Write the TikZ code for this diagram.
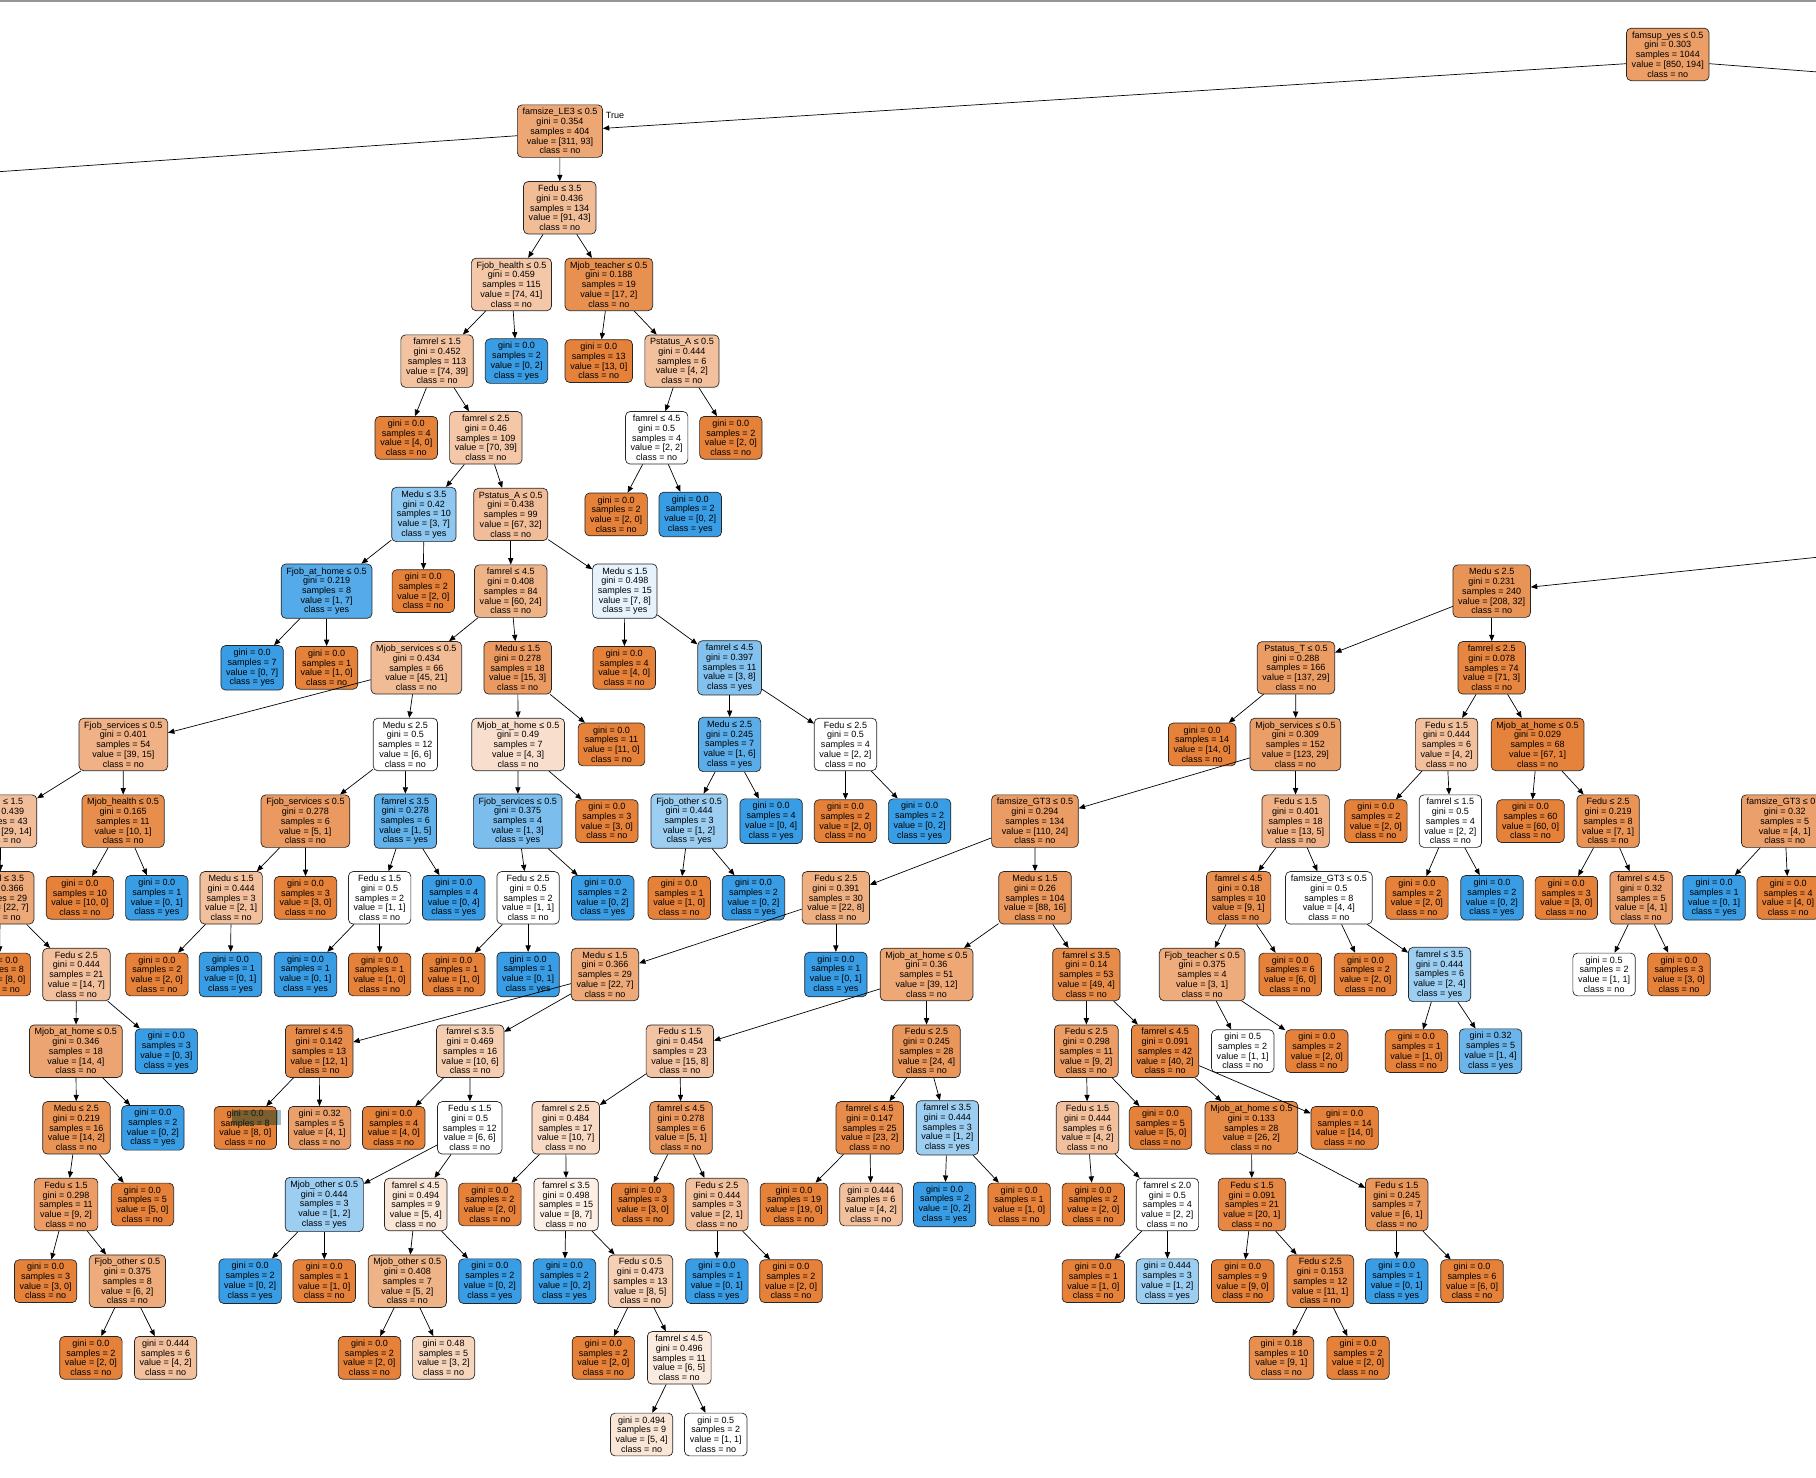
\documentclass[tikz,border=0pt]{standalone}
\usepackage{fontspec}
\setmainfont{Liberation Sans}
\usetikzlibrary{arrows.meta}
\definecolor{dtno}{RGB}{229,129,57}
\definecolor{dtyes}{RGB}{57,157,229}
\definecolor{topgray}{RGB}{150,150,150}
\definecolor{hldark}{RGB}{20,60,40}
\definecolor{hlblue}{RGB}{165,185,205}
\newcommand\dtsetcol[2]{%
  \pgfmathsetmacro\dtpc{(abs(#1-#2)/max(#1,#2))*100}%
  \ifnum#1<#2\relax\colorlet{dtcur}{dtyes!\dtpc!white}\else\colorlet{dtcur}{dtno!\dtpc!white}\fi}
\newcommand\dtin[7]{%
  \dtsetcol{#6}{#7}%
  \node[dtbox] (#1) at (#2,{47+66.2*#3}) {#4\\gini = #5\\samples = \the\numexpr#6+#7\relax\\value = [#6, #7]\\class = \ifnum#6<#7 yes\else no\fi};}
\newcommand\dtlf[6]{%
  \dtsetcol{#5}{#6}%
  \node[dtbox] (#1) at (#2,{47+66.2*#3}) {gini = #4\\samples = \the\numexpr#5+#6\relax\\value = [#5, #6]\\class = \ifnum#5<#6 yes\else no\fi};}
\begin{document}
\begin{tikzpicture}[x=1pt,y=-1pt,
  dtbox/.style={draw=black!85, line width=0.6pt, rounded corners=4pt, fill=dtcur,
    align=center, inner xsep=4.5pt, inner ysep=3pt, font=\fontsize{7.8}{8.4}\selectfont},
  ed/.style={draw=black, line width=0.6pt, -{Triangle[length=5.5pt,width=4.5pt]}},
  edl/.style={draw=black, line width=0.6pt}]
\useasboundingbox (0,0) rectangle (1568,1276);
\fill[topgray] (0,0) rectangle (1568,2);
% rank 0-6
\dtin{root}{1440}{0}{famsup\_yes ≤ 0.5}{0.303}{850}{194}
\dtin{n1}{483.5}{1}{famsize\_LE3 ≤ 0.5}{0.354}{311}{93}
\node[font=\fontsize{7.8}{8.4}\selectfont] (truelbl) at (531,100) {True};
\dtin{n2}{483.3}{2}{Fedu ≤ 3.5}{0.436}{91}{43}
\dtin{n3a}{441.6}{3}{Fjob\_health ≤ 0.5}{0.459}{74}{41}
\dtin{n3b}{525.7}{3}{Mjob\_teacher ≤ 0.5}{0.188}{17}{2}
\dtin{n4a}{377.4}{4}{famrel ≤ 1.5}{0.452}{74}{39}
\dtlf{l4b}{446}{4}{0.0}{0}{2}
\dtlf{l4c}{517}{4}{0.0}{13}{0}
\dtin{n4d}{588.8}{4}{Pstatus\_A ≤ 0.5}{0.444}{4}{2}
\dtlf{l5a}{350.8}{5}{0.0}{4}{0}
\dtin{n5b}{419.5}{5}{famrel ≤ 2.5}{0.46}{70}{39}
\dtin{n5c}{567}{5}{famrel ≤ 4.5}{0.5}{2}{2}
\dtlf{l5d}{631}{5}{0.0}{2}{0}
\dtin{n6a}{366}{6}{Medu ≤ 3.5}{0.42}{3}{7}
\dtin{n6b}{441}{6}{Pstatus\_A ≤ 0.5}{0.438}{67}{32}
\dtlf{l6c}{532}{6}{0.0}{2}{0}
\dtlf{l6d}{596}{6}{0.0}{0}{2}
% rank 7
\dtin{n7a}{282}{7}{Fjob\_at\_home ≤ 0.5}{0.219}{1}{7}
\dtlf{l7b}{365.5}{7}{0.0}{2}{0}
\dtin{n7c}{441}{7}{famrel ≤ 4.5}{0.408}{60}{24}
\dtin{n7d}{539.5}{7}{Medu ≤ 1.5}{0.498}{7}{8}
\dtin{n7e}{1288}{7}{Medu ≤ 2.5}{0.231}{208}{32}
% rank 8
\dtlf{l8a}{217.7}{8}{0.0}{0}{7}
\dtlf{l8b}{282}{8}{0.0}{1}{0}
\dtin{n8c}{359.5}{8}{Mjob\_services ≤ 0.5}{0.434}{45}{21}
\dtin{n8d}{447}{8}{Medu ≤ 1.5}{0.278}{15}{3}
\dtlf{l8e}{539}{8}{0.0}{4}{0}
\dtin{n8f}{630}{8}{famrel ≤ 4.5}{0.397}{3}{8}
\dtin{n8g}{1119}{8}{Pstatus\_T ≤ 0.5}{0.288}{137}{29}
\dtin{n8h}{1288}{8}{famrel ≤ 2.5}{0.078}{71}{3}
% rank 9
\dtin{n9a}{106.5}{9}{Fjob\_services ≤ 0.5}{0.401}{39}{15}
\dtin{n9b}{350}{9}{Medu ≤ 2.5}{0.5}{6}{6}
\dtin{n9c}{447.4}{9}{Mjob\_at\_home ≤ 0.5}{0.49}{4}{3}
\dtlf{l9d}{528}{9}{0.0}{11}{0}
\dtin{n9e}{630}{9}{Medu ≤ 2.5}{0.245}{1}{6}
\dtin{n9f}{730}{9}{Fedu ≤ 2.5}{0.5}{2}{2}
\dtlf{l9g}{1038}{9}{0.0}{14}{0}
\dtin{n9h}{1118.5}{9}{Mjob\_services ≤ 0.5}{0.309}{123}{29}
\dtin{n9i}{1249}{9}{Fedu ≤ 1.5}{0.444}{4}{2}
\dtin{n9j}{1327.6}{9}{Mjob\_at\_home ≤ 0.5}{0.029}{67}{1}
% rank 10
\dtin{n10a}{0.5}{10}{Medu ≤ 1.5}{0.439}{29}{14}
\dtin{n10b}{106.3}{10}{Mjob\_health ≤ 0.5}{0.165}{10}{1}
\dtin{n10c}{263.7}{10}{Fjob\_services ≤ 0.5}{0.278}{5}{1}
\dtin{n10d}{350}{10}{famrel ≤ 3.5}{0.278}{1}{5}
\dtin{n10e}{447}{10}{Fjob\_services ≤ 0.5}{0.375}{1}{3}
\dtlf{l10f}{524}{10}{0.0}{3}{0}
\dtin{n10g}{595}{10}{Fjob\_other ≤ 0.5}{0.444}{1}{2}
\dtlf{l10h}{665.8}{10}{0.0}{0}{4}
\dtlf{l10i}{730}{10}{0.0}{2}{0}
\dtlf{l10j}{794}{10}{0.0}{0}{2}
\dtin{n10k}{893.6}{10}{famsize\_GT3 ≤ 0.5}{0.294}{110}{24}
\dtin{n10l}{1118.7}{10}{Fedu ≤ 1.5}{0.401}{13}{5}
\dtlf{l10m}{1188}{10}{0.0}{2}{0}
\dtin{n10n}{1252.3}{10}{famrel ≤ 1.5}{0.5}{2}{2}
\dtlf{l10o}{1321.5}{10}{0.0}{60}{0}
\dtin{n10p}{1388.5}{10}{Fedu ≤ 2.5}{0.219}{7}{1}
\dtin{n10q}{1541}{10}{famsize\_GT3 ≤ 0.5}{0.32}{4}{1}
% rank 11
\dtin{n11a}{0.2}{11}{famrel ≤ 3.5}{0.366}{22}{7}
\dtlf{l11b}{69}{11}{0.0}{10}{0}
\dtlf{l11c}{135.4}{11}{0.0}{0}{1}
\dtin{n11d}{199.6}{11}{Medu ≤ 1.5}{0.444}{2}{1}
\dtlf{l11e}{263.8}{11}{0.0}{3}{0}
\dtin{n11f}{327.8}{11}{Fedu ≤ 1.5}{0.5}{1}{1}
\dtlf{l11g}{391.8}{11}{0.0}{0}{4}
\dtin{n11h}{456}{11}{Fedu ≤ 2.5}{0.5}{1}{1}
\dtlf{l11i}{520.4}{11}{0.0}{0}{2}
\dtlf{l11j}{586.5}{11}{0.0}{1}{0}
\dtlf{l11k}{650.6}{11}{0.0}{0}{2}
\dtin{n11l}{721.7}{11}{Fedu ≤ 2.5}{0.391}{22}{8}
\dtin{n11m}{893.7}{11}{Medu ≤ 1.5}{0.26}{88}{16}
\dtin{n11n}{1069.5}{11}{famrel ≤ 4.5}{0.18}{9}{1}
\dtin{n11o}{1147.4}{11}{famsize\_GT3 ≤ 0.5}{0.5}{4}{4}
\dtlf{l11p}{1223.4}{11}{0.0}{2}{0}
\dtlf{l11q}{1288.2}{11}{0.0}{0}{2}
\dtlf{l11r}{1352.4}{11}{0.0}{3}{0}
\dtin{n11s}{1417}{11}{famrel ≤ 4.5}{0.32}{4}{1}
\dtlf{l11t}{1480}{11}{0.0}{0}{1}
\dtlf{l11u}{1544}{11}{0.0}{4}{0}
% rank 12
\dtlf{l12a}{-0.5}{12}{0.0}{8}{0}
\dtin{n12b}{66}{12}{Fedu ≤ 2.5}{0.444}{14}{7}
\dtlf{l12c}{135.5}{12}{0.0}{2}{0}
\dtlf{l12d}{199}{12}{0.0}{0}{1}
\dtlf{l12e}{263.8}{12}{0.0}{0}{1}
\dtlf{l12f}{327.8}{12}{0.0}{1}{0}
\dtlf{l12g}{391.8}{12}{0.0}{1}{0}
\dtlf{l12h}{456}{12}{0.0}{0}{1}
\dtin{n12i}{522.4}{12}{Medu ≤ 1.5}{0.366}{22}{7}
\dtlf{l12j}{721.7}{12}{0.0}{0}{1}
\dtin{n12k}{800}{12}{Mjob\_at\_home ≤ 0.5}{0.36}{39}{12}
\dtin{n12l}{938}{12}{famrel ≤ 3.5}{0.14}{49}{4}
\dtin{n12m}{1038}{12}{Fjob\_teacher ≤ 0.5}{0.375}{3}{1}
\dtlf{l12n}{1114}{12}{0.0}{6}{0}
\dtlf{l12o}{1179}{12}{0.0}{2}{0}
\dtin{n12p}{1243}{12}{famrel ≤ 3.5}{0.444}{2}{4}
\dtlf{l12q}{1385}{12}{0.5}{1}{1}
\dtlf{l12r}{1449.7}{12}{0.0}{3}{0}
% rank 13
\dtin{n13a}{65.5}{13}{Mjob\_at\_home ≤ 0.5}{0.346}{14}{4}
\dtlf{l13b}{143.7}{13}{0.0}{0}{3}
\dtin{n13c}{275.6}{13}{famrel ≤ 4.5}{0.142}{12}{1}
\dtin{n13d}{406}{13}{famrel ≤ 3.5}{0.469}{10}{6}
\dtin{n13e}{587}{13}{Fedu ≤ 1.5}{0.454}{15}{8}
\dtin{n13f}{800}{13}{Fedu ≤ 2.5}{0.245}{24}{4}
\dtin{n13g}{938}{13}{Fedu ≤ 2.5}{0.298}{9}{2}
\dtin{n13h}{1006}{13}{famrel ≤ 4.5}{0.091}{40}{2}
\dtlf{l13i}{1073}{13}{0.5}{1}{1}
\dtlf{l13j}{1137}{13}{0.0}{2}{0}
\dtlf{l13k}{1223}{13}{0.0}{1}{0}
\dtlf{l13l}{1287}{13}{0.32}{1}{4}
% rank 14
\dtin{n14a}{66}{14}{Medu ≤ 2.5}{0.219}{14}{2}
\dtlf{l14b}{132}{14}{0.0}{0}{2}
\dtlf{l14c}{211.8}{14}{0.0}{8}{0}
\dtlf{l14d}{276}{14}{0.32}{4}{1}
\dtlf{l14e}{340}{14}{0.0}{4}{0}
\dtin{n14f}{405.6}{14}{Fedu ≤ 1.5}{0.5}{6}{6}
\dtin{n14g}{488.5}{14}{famrel ≤ 2.5}{0.484}{10}{7}
\dtin{n14h}{588}{14}{famrel ≤ 4.5}{0.278}{5}{1}
\dtin{n14i}{751}{14}{famrel ≤ 4.5}{0.147}{23}{2}
\dtin{n14j}{818}{14}{famrel ≤ 3.5}{0.444}{1}{2}
\dtin{n14k}{939}{14}{Fedu ≤ 1.5}{0.444}{4}{2}
\dtlf{l14l}{1002}{14}{0.0}{5}{0}
\dtin{n14m}{1080.5}{14}{Mjob\_at\_home ≤ 0.5}{0.133}{26}{2}
\dtlf{l14n}{1161}{14}{0.0}{14}{0}
% rank 15
\dtin{n15a}{57}{15}{Fedu ≤ 1.5}{0.298}{9}{2}
\dtlf{l15b}{123}{15}{0.0}{5}{0}
\dtin{n15c}{280}{15}{Mjob\_other ≤ 0.5}{0.444}{1}{2}
\dtin{n15d}{359}{15}{famrel ≤ 4.5}{0.494}{5}{4}
\dtlf{l15e}{423}{15}{0.0}{2}{0}
\dtin{n15f}{488.8}{15}{famrel ≤ 3.5}{0.498}{8}{7}
\dtlf{l15g}{555}{15}{0.0}{3}{0}
\dtin{n15h}{619}{15}{Fedu ≤ 2.5}{0.444}{2}{1}
\dtlf{l15i}{685.6}{15}{0.0}{19}{0}
\dtlf{l15j}{752}{15}{0.444}{4}{2}
\dtlf{l15k}{815.6}{15}{0.0}{0}{2}
\dtlf{l15l}{880}{15}{0.0}{1}{0}
\dtlf{l15m}{944}{15}{0.0}{2}{0}
\dtin{n15n}{1008}{15}{famrel ≤ 2.0}{0.5}{2}{2}
\dtin{n15o}{1081}{15}{Fedu ≤ 1.5}{0.091}{20}{1}
\dtin{n15p}{1206}{15}{Fedu ≤ 1.5}{0.245}{6}{1}
% rank 16
\dtlf{l16a}{39.4}{16}{0.0}{3}{0}
\dtin{n16b}{110}{16}{Fjob\_other ≤ 0.5}{0.375}{6}{2}
\dtlf{l16c}{216}{16}{0.0}{0}{2}
\dtlf{l16d}{280}{16}{0.0}{1}{0}
\dtin{n16e}{351.7}{16}{Mjob\_other ≤ 0.5}{0.408}{5}{2}
\dtlf{l16f}{423}{16}{0.0}{0}{2}
\dtlf{l16g}{487.4}{16}{0.0}{0}{2}
\dtin{n16h}{553}{16}{Fedu ≤ 0.5}{0.473}{8}{5}
\dtlf{l16i}{619}{16}{0.0}{0}{1}
\dtlf{l16j}{683}{16}{0.0}{2}{0}
\dtlf{l16k}{944}{16}{0.0}{1}{0}
\dtlf{l16l}{1008}{16}{0.444}{1}{2}
\dtlf{l16m}{1073}{16}{0.0}{9}{0}
\dtin{n16n}{1140}{16}{Fedu ≤ 2.5}{0.153}{11}{1}
\dtlf{l16o}{1206}{16}{0.0}{0}{1}
\dtlf{l16p}{1271}{16}{0.0}{6}{0}
% rank 17-18
\dtlf{l17a}{78.5}{17}{0.0}{2}{0}
\dtlf{l17b}{143}{17}{0.444}{4}{2}
\dtlf{l17c}{319}{17}{0.0}{2}{0}
\dtlf{l17d}{383}{17}{0.48}{3}{2}
\dtlf{l17e}{521}{17}{0.0}{2}{0}
\dtin{n17f}{586.5}{17}{famrel ≤ 4.5}{0.496}{6}{5}
\dtlf{l17g}{1106.5}{17}{0.18}{9}{1}
\dtlf{l17h}{1172.6}{17}{0.0}{2}{0}
\dtlf{l18a}{554}{18}{0.494}{5}{4}
\dtlf{l18b}{618}{18}{0.5}{1}{1}
% off-picture ends
\coordinate (offL) at (-300,169);
\coordinate (offR) at (1868,85);
\coordinate (offR2) at (1868,450);
% edges
\draw[ed] ([yshift=-8pt]root.west) -- (n1);
\draw[edl] ([yshift=-8pt]root.east) -- (offR);
\draw[edl] ([yshift=-4pt]n1.west) -- (offL);
\draw[ed] (offR2) -- (n7e);
\foreach \a/\b in {n1/n2, n2/n3a, n2/n3b, n3a/n4a, n3a/l4b, n3b/l4c, n3b/n4d,
  n4a/l5a, n4a/n5b, n4d/n5c, n4d/l5d, n5b/n6a, n5b/n6b, n5c/l6c, n5c/l6d,
  n6a/n7a, n6a/l7b, n6b/n7c, n6b/n7d,
  n7a/l8a, n7a/l8b, n7c/n8c, n7c/n8d, n7d/l8e, n7d/n8f, n7e/n8g, n7e/n8h,
  n8c/n9a, n8c/n9b, n8d/n9c, n8d/l9d, n8f/n9e, n8f/n9f, n8g/l9g, n8g/n9h, n8h/n9i, n8h/n9j,
  n9a/n10a, n9a/n10b, n9b/n10c, n9b/n10d, n9c/n10e, n9c/l10f, n9e/n10g, n9e/l10h,
  n9f/l10i, n9f/l10j, n9h/n10k, n9h/n10l, n9i/l10m, n9i/n10n, n9j/l10o, n9j/n10p,
  n10a/n11a, n10b/l11b, n10b/l11c, n10c/n11d, n10c/l11e, n10d/n11f, n10d/l11g,
  n10e/n11h, n10e/l11i, n10g/l11j, n10g/l11k, n10k/n11l, n10k/n11m, n10l/n11n, n10l/n11o,
  n10n/l11p, n10n/l11q, n10p/l11r, n10p/n11s, n10q/l11t, n10q/l11u,
  n11a/l12a, n11a/n12b, n11d/l12c, n11d/l12d, n11f/l12e, n11f/l12f, n11h/l12g, n11h/l12h,
  n11l/n12i, n11l/l12j, n11m/n12k, n11m/n12l, n11n/n12m, n11n/l12n, n11o/l12o, n11o/n12p,
  n11s/l12q, n11s/l12r,
  n12b/n13a, n12b/l13b, n12i/n13c, n12i/n13d, n12k/n13e, n12k/n13f, n12l/n13g, n12l/n13h,
  n12m/l13i, n12m/l13j, n12p/l13k, n12p/l13l,
  n13a/n14a, n13a/l14b, n13c/l14c, n13c/l14d, n13d/l14e, n13d/n14f, n13e/n14g, n13e/n14h,
  n13f/n14i, n13f/n14j, n13g/n14k, n13g/l14l, n13h/n14m, n13h/l14n,
  n14a/n15a, n14a/l15b, n14f/n15c, n14f/n15d, n14g/l15e, n14g/n15f, n14h/l15g, n14h/n15h,
  n14i/l15i, n14i/l15j, n14j/l15k, n14j/l15l, n14k/l15m, n14k/n15n, n14m/n15o, n14m/n15p,
  n15a/l16a, n15a/n16b, n15c/l16c, n15c/l16d, n15d/n16e, n15d/l16f, n15f/l16g, n15f/n16h,
  n15h/l16i, n15h/l16j, n15n/l16k, n15n/l16l, n15o/l16m, n15o/n16n, n15p/l16o, n15p/l16p,
  n16b/l17a, n16b/l17b, n16e/l17c, n16e/l17d, n16h/l17e, n16h/n17f, n16n/l17g, n16n/l17h,
  n17f/l18a, n17f/l18b}
  {\draw[ed] (\a) -- (\b);}
% selection highlight seen on one leaf
\fill[hldark, fill opacity=0.5] (200,958.5) rectangle (240,971);
\fill[hlblue] (240,958.5) rectangle (242.6,971);
\end{tikzpicture}
\end{document}
